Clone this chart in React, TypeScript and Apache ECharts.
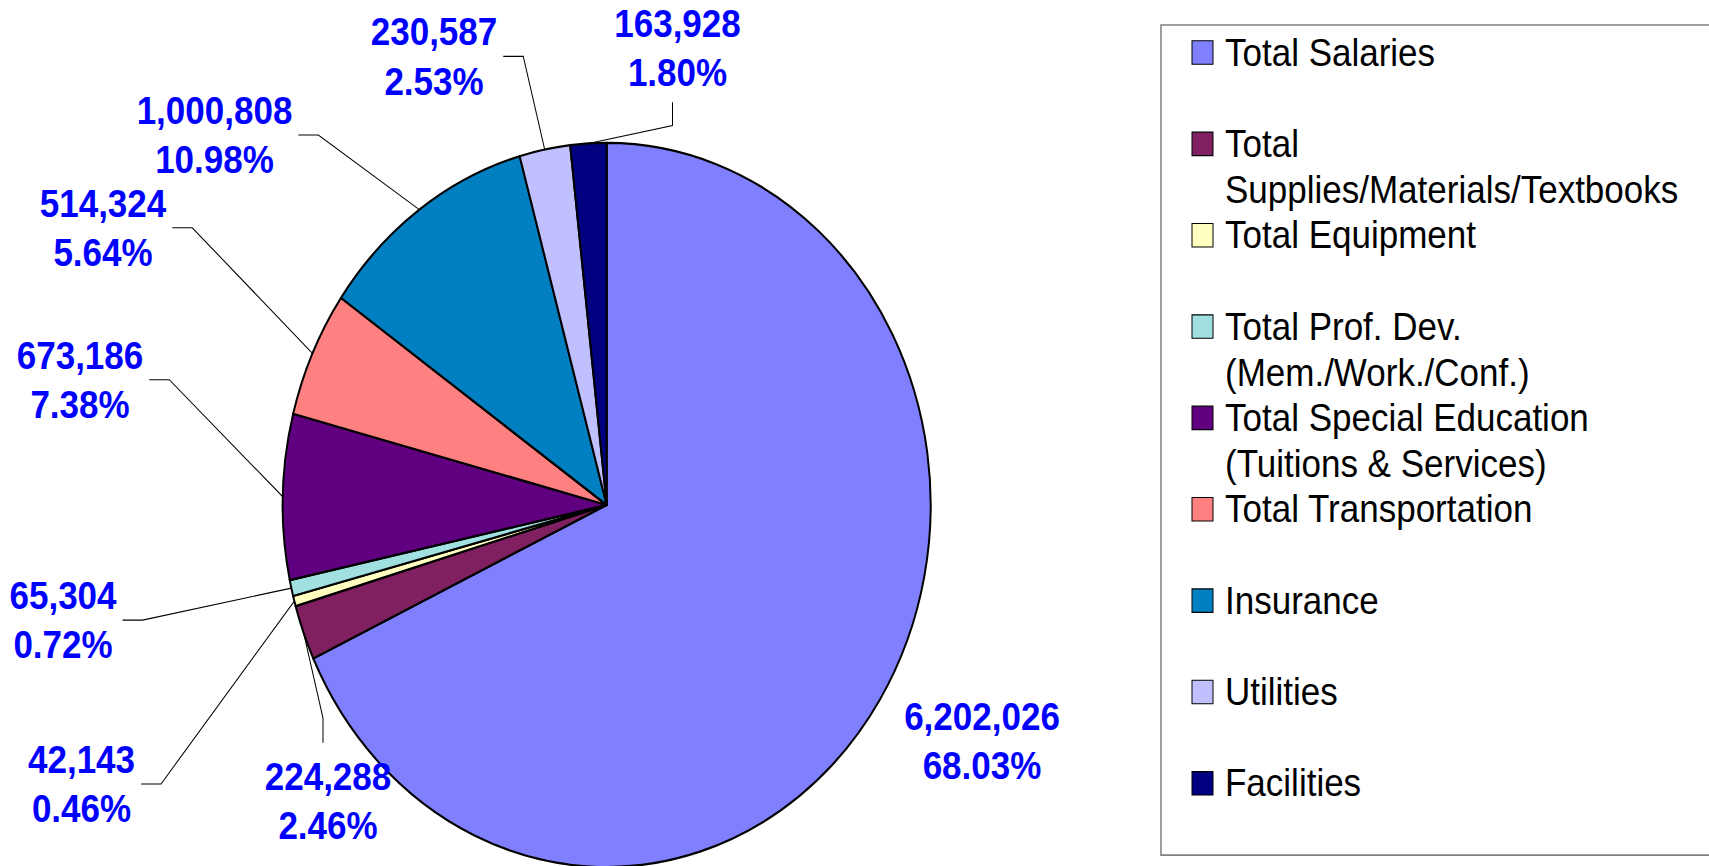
import React, { useEffect, useRef } from 'react';
import * as echarts from 'echarts';

// ---- data ----
const categories = [
  'Total Salaries',
  'Total Supplies/Materials/Textbooks',
  'Total Equipment',
  'Total Prof. Dev. (Mem./Work./Conf.)',
  'Total Special Education (Tuitions & Services)',
  'Total Transportation',
  'Insurance',
  'Utilities',
  'Facilities',
];
// legend text as wrapped in the legend box
const legendLabels = [
  'Total Salaries',
  'Total\nSupplies/Materials/Textbooks',
  'Total Equipment',
  'Total Prof. Dev.\n(Mem./Work./Conf.)',
  'Total Special Education\n(Tuitions & Services)',
  'Total Transportation',
  'Insurance',
  'Utilities',
  'Facilities',
];
const values = [6202026, 224288, 42143, 65304, 673186, 514324, 1000808, 230587, 163928];
const colors = ['#8080FF', '#802060', '#FFFFC0', '#A0E0E0', '#600080', '#FF8080', '#0080C0', '#C0C0FF', '#000080'];

// ---- layout (unstretched chart coordinates) ----
const W = 1709;
const H = 775;
const FULL_H = 866;
const labelCenters: number[][] = [
  [982, 663],
  [328, 716.7],
  [81.5, 701.6],
  [63, 555],
  [80, 339.8],
  [103, 203.8],
  [214.5, 120.8],
  [434, 50.4],
  [677.5, 42.4],
];
const leaderSide = ['none', 'top', 'right', 'right', 'right', 'right', 'right', 'right', 'bottom'];

const FONT = "'Liberation Sans', Arial, sans-serif";

export default function App() {
  const ref = useRef<HTMLDivElement>(null);

  useEffect(() => {
    if (!ref.current) return;
    const chart = echarts.init(ref.current, undefined, { renderer: 'svg' });

    const legendTop = 47;
    const legendPitch = 81.75;
    const legendChildren: any[] = [];
    legendLabels.forEach((label, i) => {
      const cy = legendTop + i * legendPitch;
      legendChildren.push({
        type: 'rect',
        shape: { x: 1192, y: cy - 10.5, width: 21, height: 21 },
        style: { fill: colors[i], stroke: '#000', lineWidth: 1 },
        silent: true,
      });
      legendChildren.push({
        type: 'text',
        style: {
          x: 1225,
          y: cy - 21,
          text: label,
          fill: '#000',
          fontSize: 35,
          fontFamily: FONT,
          lineHeight: 41,
          verticalAlign: 'top',
          align: 'left',
        },
        silent: true,
      });
    });

    chart.setOption({
      animation: false,
      backgroundColor: '#fff',
      graphic: [
        {
          type: 'rect',
          shape: { x: 1161, y: 22.4, width: 600, height: 742.8 },
          style: { fill: 'none', stroke: '#808080', lineWidth: 1.5 },
          silent: true,
        },
        ...legendChildren,
      ],
      series: [
        {
          type: 'pie',
          name: 'Budget',
          center: [606.7, 451.9],
          radius: 324,
          startAngle: 90,
          clockwise: true,
          avoidLabelOverlap: false,
          minShowLabelAngle: 0,
          silent: true,
          itemStyle: { borderColor: '#000', borderWidth: 2 },
          label: {
            show: true,
            position: 'outside',
            color: '#0000FF',
            fontWeight: 'bold',
            fontSize: 35,
            fontFamily: FONT,
            lineHeight: 44,
            align: 'center',
            formatter: (p: any) =>
              `${Number(p.value).toLocaleString('en-US')}\n${Number(p.percent).toFixed(2)}%`,
          },
          labelLine: {
            show: true,
            lineStyle: { color: '#000', width: 1 },
          },
          labelLayout: (params: any) => {
            const i = params.dataIndex;
            const [x, y] = labelCenters[i];
            const out: any = { x, y, align: 'center', verticalAlign: 'middle' };
            const pts = params.labelLinePoints;
            const side = leaderSide[i];
            if (pts && side !== 'none') {
              const edge = pts[0];
              const w = params.labelRect.width;
              let end: number[];
              let bend: number[];
              if (side === 'right') {
                end = [x + w / 2 + 6, y];
                bend = [x + w / 2 + 26, y];
              } else if (side === 'top') {
                end = [x - 5, y - 52];
                bend = [x - 5, y - 74];
              } else {
                end = [x - 5, y + 49];
                bend = [x - 5, y + 70];
              }
              out.labelLinePoints = [edge, bend, end];
            }
            return out;
          },
          data: categories.map((name, i) => ({
            name,
            value: values[i],
            itemStyle: { color: colors[i] },
            labelLine: { show: leaderSide[i] !== 'none' },
          })),
        },
      ],
    });

    return () => {
      chart.dispose();
    };
  }, []);

  return (
    <div
      ref={ref}
      style={{
        position: 'fixed',
        left: 0,
        top: 0,
        width: W,
        height: H,
        transform: `scaleY(${FULL_H / H})`,
        transformOrigin: '0 0',
        background: '#fff',
      }}
    />
  );
}
